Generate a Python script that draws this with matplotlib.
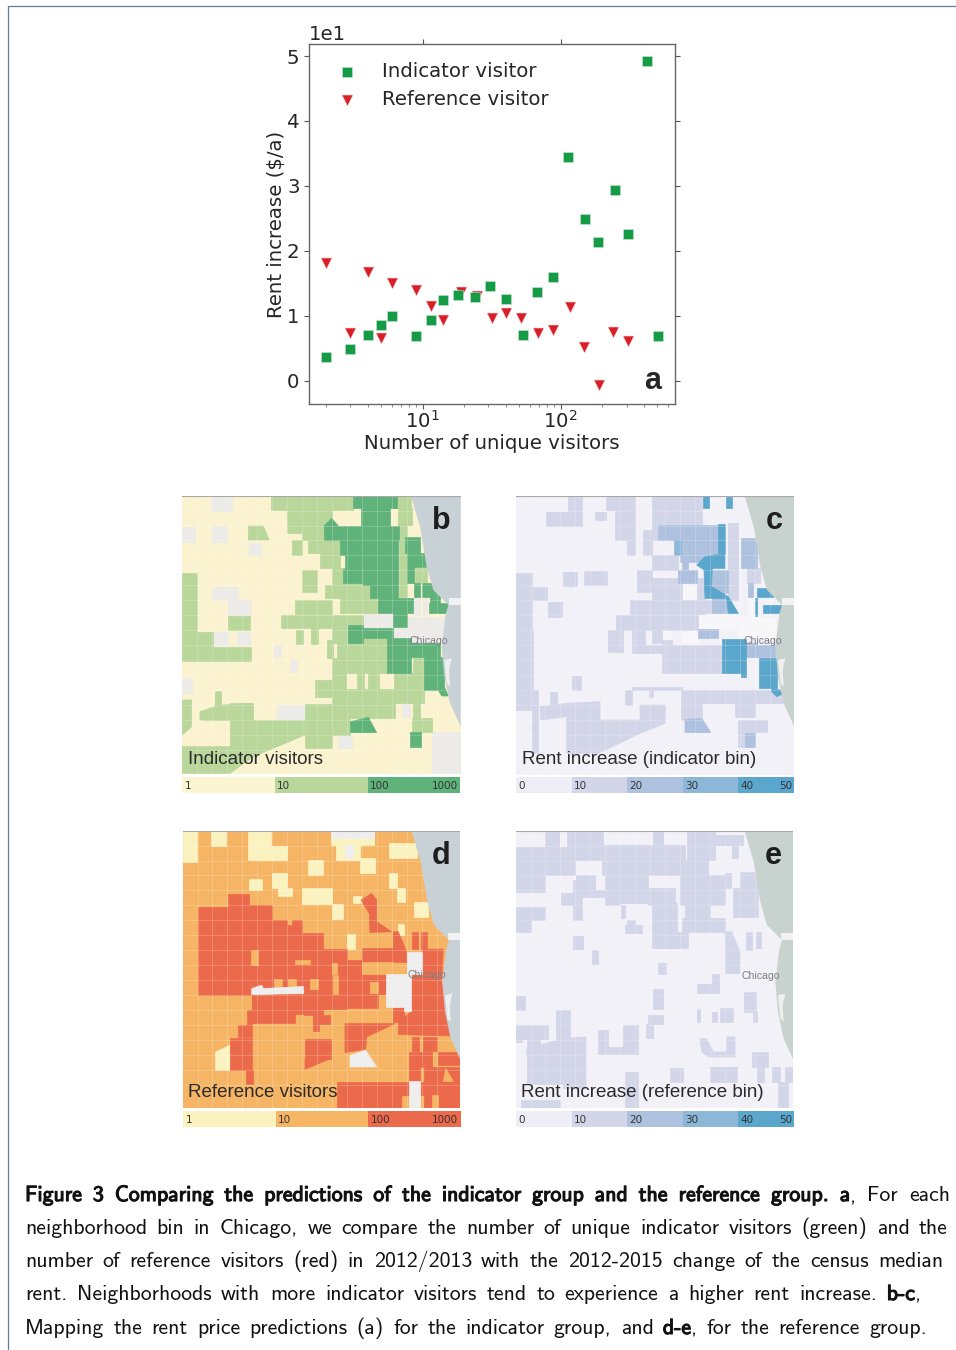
import matplotlib
matplotlib.use('Agg')
import matplotlib.pyplot as plt
import matplotlib.patheffects as pe
from matplotlib.patches import Rectangle, Polygon

W, H = 956, 1350

# panel a
ind_x = [2, 3, 4, 5, 6, 9, 11.5, 14, 18, 24, 31, 40, 53, 67, 88, 113, 149, 187, 248, 310, 420, 510]
ind_y = [3.64, 4.83, 6.98, 8.6, 9.96, 6.83, 9.34, 12.47, 13.14, 12.9, 14.6, 12.6, 6.98, 13.66, 15.96,
         34.45, 24.95, 21.3, 29.3, 22.6, 49.3, 6.83]
ref_x = [2, 3, 4, 5, 6, 9, 11.5, 14, 19, 24.6, 32, 40, 52, 69, 88.5, 117, 148, 190, 241, 309]
ref_y = [18.2, 7.34, 16.7, 6.5, 15.0, 14.0, 11.5, 9.3, 13.7, 13.1, 9.7, 10.4, 9.7, 7.4, 7.8, 11.3,
         5.2, -0.67, 7.5, 6.05]

# map regions, in crop pixels of each panel: 4 numbers = box, longer = outline
lake = [(708, 18), (857, 18), (857, 710), (825, 640), (808, 560), (800, 470), (812, 372), (820, 345),
        (775, 300), (755, 230), (735, 110)]
street_x = [66, 110, 155, 200, 245, 290, 335, 380, 425, 470, 515, 560, 605, 650, 695, 740, 785]
street_y = [62, 108, 150, 195, 240, 285, 330, 375, 420, 465, 510, 555, 600, 645, 690, 735, 780]

b_nodata = [(22, 112, 60, 155), (108, 20, 170, 62), (110, 108, 155, 155), (222, 160, 258, 195),
            (112, 290, 160, 330), (160, 290, 190, 375), (190, 330, 228, 375), (115, 425, 160, 465),
            (185, 425, 225, 465), (298, 465, 318, 500), (345, 510, 365, 545), (305, 645, 390, 690),
            (22, 565, 50, 610), (490, 735, 530, 775), (770, 725, 857, 850), (565, 372, 655, 415),
            (700, 380, 808, 460), (655, 415, 700, 445), (715, 325, 735, 375), (745, 325, 757, 375),
            (680, 640, 705, 680)]
b_mid = [(288, 18, 535, 60), (335, 60, 470, 130), (380, 130, 495, 150), (400, 150, 495, 190),
         (435, 190, 495, 235), (470, 235, 590, 325), (450, 285, 590, 325), (495, 325, 610, 370),
         (360, 330, 470, 372), (318, 375, 565, 415), (470, 410, 520, 460), (350, 150, 380, 195),
         (382, 240, 425, 305), (160, 378, 225, 420), (22, 248, 65, 425), (22, 425, 115, 470),
         (22, 470, 228, 512), (362, 420, 384, 463), (408, 410, 430, 462), (455, 450, 475, 505),
         (485, 445, 637, 505), (470, 505, 637, 550), (470, 550, 512, 610), (545, 550, 567, 597),
         (580, 550, 612, 597), (658, 550, 748, 640), (715, 500, 748, 550), (420, 570, 470, 620),
         (470, 597, 660, 685), (470, 685, 525, 735), (390, 643, 470, 775), (165, 640, 235, 770),
         (710, 685, 770, 725), (715, 635, 735, 685), (670, 55, 710, 105), (672, 105, 695, 320),
         (720, 235, 755, 280), (650, 18, 708, 55),
         [(220, 108), (265, 108), (283, 150), (220, 150)],
         [(22, 630), (50, 630), (50, 710), (22, 735)],
         [(75, 665), (120, 650), (122, 605), (140, 605), (140, 645), (230, 640), (235, 690), (100, 692), (75, 690)],
         [(235, 692), (390, 692), (390, 735), (235, 800), (165, 850), (22, 850), (22, 770), (235, 770)]]
b_high = [(535, 18, 665, 55), (558, 55, 645, 108), (447, 108, 672, 150), (495, 150, 670, 195),
          (510, 195, 670, 238), (505, 238, 560, 280), (565, 235, 670, 285), (585, 285, 670, 325),
          (610, 325, 715, 370), (655, 370, 695, 412), (690, 140, 735, 190), (695, 190, 752, 232),
          (695, 232, 718, 278), (718, 280, 735, 320), (740, 278, 765, 320), (765, 280, 795, 340),
          (762, 340, 818, 370), (565, 415, 655, 445), (520, 405, 565, 458), (637, 445, 708, 548),
          (708, 460, 795, 500), (748, 500, 808, 600), (705, 727, 738, 770),
          [(447, 108), (470, 85), (490, 108)],
          [(788, 598), (808, 590), (820, 618), (800, 618)],
          [(527, 695), (580, 682), (605, 728), (527, 728)]]

c_l1 = [(190, 18, 230, 65), (302, 18, 390, 60), (122, 65, 230, 108), (270, 65, 302, 90), (330, 60, 390, 150),
        (365, 150, 390, 195), (415, 120, 440, 195), (440, 18, 590, 105), (440, 105, 460, 150), (440, 195, 520, 240),
        (175, 245, 215, 288), (238, 242, 305, 285), (397, 240, 440, 305), (440, 265, 530, 330), (575, 265, 600, 330),
        (600, 330, 625, 370), (375, 330, 600, 372), (332, 375, 580, 420), (310, 420, 355, 485), (380, 420, 420, 490),
        (440, 420, 470, 460), (420, 465, 470, 490), (470, 450, 500, 510), (500, 465, 650, 510), (470, 510, 650, 550),
        (85, 290, 125, 330), (130, 335, 172, 380), (33, 248, 80, 420), (33, 420, 85, 480), (33, 480, 85, 600),
        (33, 600, 100, 660), (80, 660, 100, 790), (200, 558, 228, 600), (360, 600, 380, 645), (380, 590, 530, 600),
        (432, 600, 445, 620), (135, 605, 155, 645), (527, 600, 660, 640), (527, 640, 590, 690), (660, 600, 850, 640),
        (690, 640, 750, 680), (700, 690, 785, 725), (700, 725, 750, 770), (670, 100, 700, 330), (725, 235, 765, 280),
        [(105, 650), (185, 640), (285, 635), (285, 690), (405, 690), (405, 645), (482, 645), (482, 700), (405, 730),
         (280, 790), (185, 790), (185, 680), (108, 690)]]
c_l2 = [(460, 105, 640, 150), (525, 150, 640, 215), (520, 240, 575, 280), (622, 325, 665, 370), (580, 416, 640, 445),
        (720, 728, 750, 770), (722, 460, 755, 500), (755, 465, 810, 500), (708, 145, 755, 235), (728, 280, 745, 320),
        (530, 215, 550, 238), (620, 240, 670, 310),
        [(540, 688), (590, 685), (618, 728), (540, 728)]]
c_l3 = [(507, 150, 527, 195)]
c_l4 = [(640, 103, 660, 190), (593, 18, 612, 55), (662, 22, 680, 55), (650, 447, 722, 550), (708, 550, 722, 562),
        (762, 505, 815, 595), (755, 295, 803, 320), (775, 345, 828, 370), (750, 325, 756, 378),
        [(575, 225), (600, 200), (660, 190), (660, 235), (622, 235), (620, 290), (670, 320), (700, 370), (670, 370),
         (665, 325), (600, 325), (597, 240)],
        [(800, 595), (825, 600), (832, 612), (815, 620), (800, 605)]]
c_white = [(700, 380, 810, 445), (580, 372, 700, 415), (730, 325, 748, 378), (530, 285, 575, 328), (532, 415, 578, 462),
           (468, 420, 498, 448)]

d_low = [(24, 18, 65, 110), (108, 18, 152, 62), (218, 18, 288, 105), (288, 62, 335, 105), (467, 18, 597, 60),
         (483, 60, 555, 105), (555, 100, 600, 145), (642, 55, 725, 100), (642, 145, 665, 190), (665, 190, 690, 232),
         (400, 105, 445, 150), (222, 162, 260, 195), (290, 145, 335, 190), (310, 190, 350, 212), (380, 190, 470, 237),
         (470, 237, 505, 282), (535, 212, 557, 235), (718, 232, 758, 277), (515, 327, 540, 372), (670, 298, 686, 330),
         [(122, 680), (165, 660), (165, 735), (122, 735)]]
d_high = [(68, 245, 228, 510), (158, 207, 222, 245), (222, 240, 292, 490), (292, 285, 335, 490), (335, 300, 380, 490),
          (350, 285, 380, 305), (380, 325, 445, 490), (445, 372, 515, 550), (515, 405, 562, 505), (562, 370, 655, 412),
          (562, 445, 632, 505), (470, 505, 610, 548), (232, 505, 430, 565), (232, 510, 360, 592), (388, 490, 445, 570),
          (190, 600, 232, 635), (165, 638, 232, 735), (213, 735, 235, 775), (215, 555, 232, 600), (415, 570, 465, 595),
          (415, 595, 432, 618), (712, 322, 730, 372), (738, 322, 757, 372), (712, 635, 732, 678), (745, 635, 785, 678),
          (703, 680, 735, 768), (735, 680, 770, 725), (790, 680, 855, 720), (748, 725, 855, 848), (735, 770, 770, 810),
          (485, 770, 703, 848), (655, 545, 688, 590), (390, 640, 467, 700),
          [(390, 700), (467, 700), (390, 732)],
          [(655, 320), (670, 320), (695, 380), (695, 412), (655, 412)],
          [(558, 225), (590, 205), (605, 225), (605, 290), (650, 320), (585, 322), (583, 265)],
          [(510, 595), (660, 595), (575, 635), (572, 672), (510, 682)],
          [(708, 445), (742, 445), (742, 372), (805, 372), (800, 470), (825, 632), (670, 628), (670, 590), (708, 560)]]
d_mid = [(228, 375, 250, 420), (360, 405, 405, 418), (298, 460, 320, 490), (340, 460, 362, 490), (405, 460, 430, 490),
         (470, 415, 485, 445), (475, 450, 488, 505), (562, 412, 655, 445), (585, 470, 608, 503), (680, 812, 703, 848),
         (770, 810, 790, 848),
         [(812, 730), (835, 768), (805, 768)]]
d_white = [(695, 380, 742, 445), (632, 445, 708, 545), (688, 545, 708, 558), (703, 768, 735, 848), (510, 60, 535, 100),
           (467, 18, 597, 38),
           [(230, 490), (260, 480), (265, 490), (385, 484), (385, 505), (230, 508)],
           [(525, 690), (572, 675), (605, 725), (525, 725)]]

e_l1 = [(120, 18, 162, 65), (187, 18, 295, 65), (33, 65, 120, 200), (120, 65, 210, 150), (210, 65, 285, 105),
        (285, 60, 475, 105), (443, 18, 475, 60), (290, 105, 500, 150), (213, 150, 270, 195), (300, 150, 345, 240),
        (345, 150, 430, 235), (168, 205, 210, 240), (205, 165, 230, 285), (230, 195, 300, 215), (430, 190, 510, 240),
        (475, 60, 540, 105), (500, 105, 610, 150), (545, 18, 630, 105), (525, 150, 660, 240), (540, 240, 615, 280),
        (440, 235, 515, 370), (530, 280, 660, 320), (460, 320, 548, 370), (33, 245, 120, 285), (33, 285, 78, 320),
        (205, 332, 233, 372), (260, 375, 280, 418), (360, 300, 412, 325), (348, 240, 360, 280), (365, 285, 390, 300),
        (460, 415, 483, 445), (443, 490, 475, 550), (575, 475, 642, 503), (620, 445, 642, 475), (717, 500, 752, 560),
        (743, 560, 755, 590), (575, 550, 585, 590), (622, 560, 635, 590), (645, 548, 685, 590), (430, 570, 475, 595),
        (422, 595, 445, 638), (153, 555, 195, 640), (33, 513, 60, 555), (33, 600, 130, 640), (65, 640, 105, 670),
        (65, 690, 175, 775), (280, 615, 310, 685), (310, 665, 355, 685), (355, 598, 400, 685), (615, 725, 695, 770),
        (495, 728, 533, 770), (742, 680, 790, 725), (757, 725, 778, 770), (800, 725, 825, 770), (840, 725, 864, 770),
        (360, 740, 400, 848), (48, 825, 165, 848), (820, 770, 850, 848), (33, 615, 50, 650), (722, 322, 742, 375),
        (752, 322, 768, 368), (685, 190, 705, 275), (705, 140, 760, 275), (680, 60, 700, 100), (660, 145, 678, 190),
        (630, 30, 715, 60),
        [(660, 320), (680, 320), (705, 380), (705, 445), (662, 445), (662, 370)],
        [(65, 670), (175, 640), (243, 635), (243, 790), (175, 790), (175, 690), (65, 690)],
        [(585, 640), (605, 640), (625, 680), (665, 680), (665, 635), (690, 635), (690, 695), (610, 695), (590, 680)]]

green_bins = ['1', '10', '100', '1000']
rent_bins = ['0', '10', '20', '30', '40', '50']


def px_axes(x0, y0, x1, y1):
    return fig.add_axes([x0 / W, 1 - y1 / H, (x1 - x0) / W, (y1 - y0) / H])


def draw_regions(ax, regions, color, z):
    for r in regions:
        if len(r) == 4 and not isinstance(r[0], tuple):
            ax.add_patch(Rectangle((r[0], r[1]), r[2] - r[0], r[3] - r[1], fc=color, ec=color, lw=0.5, zorder=z))
        else:
            ax.add_patch(Polygon(r, closed=True, fc=color, ec=color, lw=0.5, zorder=z))


def map_panel(box, crop, bg, water, layers, letter, title, city, title_xy):
    ax = px_axes(*box)
    ax.set_xlim(crop[0], crop[1])
    ax.set_ylim(crop[3], crop[2])
    ax.axis('off')
    ax.add_patch(Rectangle((crop[0], crop[2]), crop[1] - crop[0], crop[3] - crop[2], fc=bg, ec='none', zorder=0))
    for i, (regions, color) in enumerate(layers):
        draw_regions(ax, regions, color, i + 1)
    dx = crop[0] - 22
    ax.vlines([x + dx for x in street_x], crop[2], crop[3], color='white', lw=0.4, alpha=0.35, zorder=9)
    ax.hlines(street_y, crop[0], crop[1], color='white', lw=0.4, alpha=0.35, zorder=9)
    ax.add_patch(Polygon([(x + dx, y) for x, y in lake], closed=True, fc=water, ec='none', zorder=10))
    ax.add_patch(Rectangle((crop[1] - 35, 325), 35, 20, fc='#f2f2f2', ec='none', zorder=11))
    ax.add_patch(Polygon([(808 + dx, 510), (830 + dx, 505), (822 + dx, 540), (825 + dx, 590), (815 + dx, 580)],
                         closed=True, fc='#eef0f0', ec='none', zorder=11))
    ax.plot([crop[0], crop[1]], [crop[2], crop[2]], color='#a8a8a8', lw=0.8, zorder=12)
    ax.text(city[0], city[1], 'Chicago', fontsize=7.6, color='#7d7d85', va='center', family='Liberation Sans', zorder=13)
    ax.text(crop[1] - 58, 94, letter, fontsize=22, fontweight='bold', ha='center', va='center',
            family='Liberation Sans', color='#1e1e1e', zorder=13)
    ax.text(title_xy[0], title_xy[1], title, fontsize=13.5, va='center', family='Liberation Sans',
            color='#2b2b2b', zorder=13)
    return ax


def legend_bar(box, colors, labels):
    ax = px_axes(*box)
    ax.bar(range(len(colors)), [1] * len(colors), width=1, align='edge', color=colors)
    ax.set_xlim(0, len(colors))
    ax.set_ylim(0, 1)
    ax.axis('off')
    for i, lab in enumerate(labels[:-1]):
        ax.text(i + 0.025 * (len(colors) / 3), 0.42, lab, fontsize=7.5, va='center', color='#333333', family='DejaVu Sans')
    ax.text(len(colors) - 0.03, 0.42, labels[-1], fontsize=7.5, va='center', ha='right', color='#333333', family='DejaVu Sans')


fig = plt.figure(figsize=(W / 100, H / 100), dpi=100)

# scatter
ax = px_axes(309.3, 44, 675, 404)
ax.scatter(ind_x, ind_y, marker='s', s=50, c='#159a46', edgecolors='#c6e6cf', linewidths=0.4, label='Indicator visitor', zorder=3)
ax.scatter(ref_x, ref_y, marker='v', s=62, c='#d81e26', edgecolors='#f6c6c6', linewidths=0.4, label='Reference visitor', zorder=2)
ax.set_xscale('log')
ax.set_xlim(1.509, 673.7)
ax.set_ylim(-3.59, 51.85)
ax.set_yticks([0, 10, 20, 30, 40, 50])
ax.ticklabel_format(axis='y', style='sci', scilimits=(1, 1))
ax.set_xlabel('Number of unique visitors', fontsize=14.2, color='#262626', labelpad=2)
ax.set_ylabel('Rent increase ($/a)', fontsize=14.2, color='#262626', labelpad=1)
ax.tick_params(axis='both', which='major', labelsize=14.2, labelcolor='#262626', color='#555555', length=3.5, width=0.8)
ax.tick_params(axis='x', which='minor', color='#777777', length=2, width=0.6)
ax.tick_params(axis='x', which='major', top=True, pad=0.5)
ax.tick_params(axis='y', which='major', right=True)
ax.yaxis.get_offset_text().set_fontsize(14.2)
ax.yaxis.get_offset_text().set_color('#262626')
for s in ax.spines.values():
    s.set_color('#666666')
    s.set_linewidth(1.0)
ax.legend(loc='upper left', frameon=False, fontsize=14.2, handletextpad=0.8, borderaxespad=0.3, labelspacing=0.45,
          bbox_to_anchor=(0.011, 0.988), labelcolor='#262626')
ax.text(0.938, 0.065, 'a', transform=ax.transAxes, fontsize=22, fontweight='bold', ha='center', va='center',
        family='Liberation Sans', color='#262626')

# maps
water_b = '#c8d2d6'
map_panel((182.3, 496, 460.7, 774), (22, 857, 18, 852), '#fbf3d0', water_b,
          [(b_nodata, '#ecebe8'), (b_mid, '#b9d69b'), (b_high, '#60b27b')], 'b', 'Indicator visitors', (702, 452), (40, 808))
map_panel((516, 496, 794, 775), (33, 867, 18, 855), '#f2f1f7', '#c8d2cf',
          [(c_white, '#f7f7fa'), (c_l1, '#d3d5e9'), (c_l2, '#aec1de'), (c_l3, '#8fb8d8'), (c_l4, '#5ba6cc')],
          'c', 'Rent increase (indicator bin)', (716, 453), (52, 808))
map_panel((183, 831, 460, 1108), (24, 855, 18, 848), '#f6b564', water_b,
          [(d_low, '#faf3c0'), (d_high, '#ec6a4c'), (d_mid, '#f6b564'), (d_white, '#eeeeee')],
          'd', 'Reference visitors', (698, 450), (40, 803))
map_panel((516, 831, 793, 1108), (33, 864, 18, 848), '#f2f1f7', '#c8d2cf',
          [(e_l1, '#d3d5e9')], 'e', 'Rent increase (reference bin)', (708, 451), (48, 803))

legend_bar((182, 777, 460.5, 793), ['#fbf5d2', '#b9d69b', '#60b27b'], green_bins)
legend_bar((516, 777, 794, 793), ['#efeef6', '#d3d5e9', '#aec1de', '#8cb7d8', '#5ba6cc'], rent_bins)
legend_bar((183, 1111, 461, 1127), ['#faf3c0', '#f6b564', '#ec6a4c'], green_bins)
legend_bar((516, 1111, 794, 1127), ['#efeef6', '#d3d5e9', '#aec1de', '#8cb7d8', '#5ba6cc'], rent_bins)

# page frame and caption, in pixel coordinates
page = fig.add_axes([0, 0, 1, 1], zorder=20)
page.set_xlim(0, W)
page.set_ylim(H, 0)
page.axis('off')
page.plot([956, 8, 8], [6, 6, 1350], color='#5f7f9f', lw=0.9)

caption = [
    (1201, 950, [('Figure 3  Comparing the predictions of the indicator group and the reference group. a', True),
                 (', For each', False)]),
    (1234, 948, [('neighborhood bin in Chicago, we compare the number of unique indicator visitors (green) and the', False)]),
    (1267, 943, [('number of reference visitors (red) in 2012/2013 with the 2012-2015 change of the census median', False)]),
    (1300, 921, [('rent. Neighborhoods with more indicator visitors tend to experience a higher rent increase. ', False),
                 ('b-c', True), (',', False)]),
    (1334, 927, [('Mapping the rent price predictions (a) for the indicator group, and ', False), ('d-e', True),
                 (', for the reference group.', False)]),
]
fig.canvas.draw()
rend = fig.canvas.get_renderer()
for base, right, runs in caption:
    words = []
    for txt, bold in runs:
        for j, w in enumerate(txt.split(' ')):
            if w:
                words.append((w, bold, j == 0 and w[0] == ','))
    items = []
    total = 0
    gaps = -1
    for w, bold, glue in words:
        t = page.text(0, base, w, fontsize=15.7, family='cmss10', color='#111111', va='baseline')
        if bold:
            t.set_path_effects([pe.withStroke(linewidth=0.8, foreground='#111111')])
        wd = t.get_window_extent(rend).width
        items.append((t, wd, glue))
        total += wd
        gaps += 0 if glue else 1
    space = (right - 25 - total) / max(gaps, 1)
    x = 25
    for t, wd, glue in items:
        if glue:
            x -= space
        t.set_x(x)
        x += wd + space

fig.savefig('out.png', dpi=100)
